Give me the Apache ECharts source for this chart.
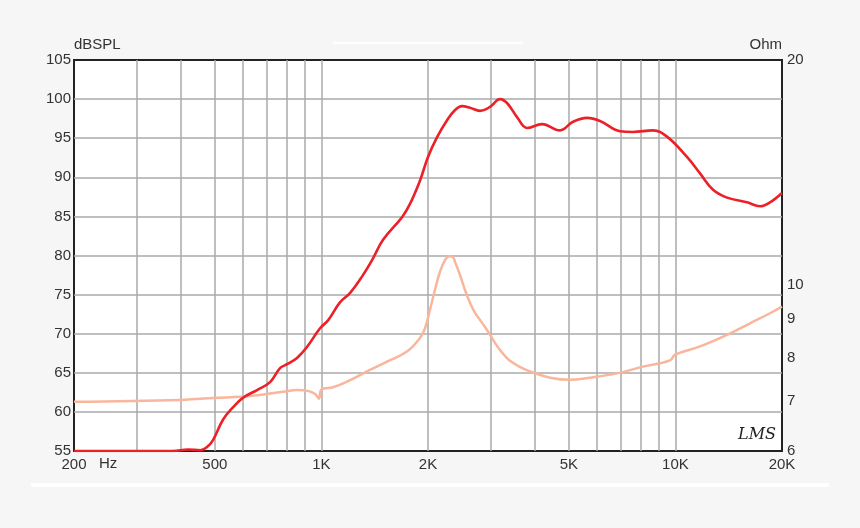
<!DOCTYPE html>
<html>
<head>
<meta charset="utf-8">
<script src="https://cdn.jsdelivr.net/npm/echarts@6/dist/echarts.min.js"></script>
<style>
html,body{margin:0;padding:0;background:#f6f6f6;}
#c{width:860px;height:528px;}
</style>
</head>
<body>
<div id="c"></div>
<script>
// ---- data ----
var xLabelValues = [200, 500, 1000, 2000, 5000, 10000, 20000];
var xGridValues = [200, 300, 400, 500, 600, 700, 800, 900, 1000, 2000, 3000, 4000, 5000, 6000, 7000, 8000, 9000, 10000, 20000];
var ohmLabelValues = [6, 7, 8, 9, 10, 20];

var splFreq = [200, 330, 380, 420, 455, 475, 494, 527, 563, 600, 658, 716, 764, 800, 853, 910, 991, 1044, 1128, 1204, 1302, 1390, 1493, 1689, 1779, 1899, 2000, 2120, 2264, 2385, 2495, 2628, 2806, 2995, 3195, 3344, 3569, 3810, 4198, 4720, 5136, 5626, 6122, 6972, 7590, 8642, 9466, 10780, 11734, 12772, 13988, 15926, 17336, 18497, 20000];
var splDb   = [55, 55, 55, 55.2, 55.1, 55.5, 56.4, 59.0, 60.6, 61.8, 62.8, 63.8, 65.6, 66.1, 66.9, 68.3, 70.7, 71.7, 74.0, 75.2, 77.3, 79.4, 82.0, 84.9, 86.6, 89.6, 92.6, 95.1, 97.3, 98.6, 99.1, 98.9, 98.5, 99.0, 100.0, 99.5, 97.7, 96.3, 96.8, 96.0, 97.1, 97.6, 97.2, 95.9, 95.8, 96.0, 95.2, 92.6, 90.5, 88.4, 87.4, 86.8, 86.3, 86.8, 88.0];

var impFreq = [200, 398, 454, 616, 779, 853, 916, 960, 984, 1000, 1078, 1181, 1371, 1532, 1744, 1899, 1961, 2026, 2092, 2162, 2234, 2300, 2354, 2385, 2462, 2544, 2628, 2716, 2806, 2898, 2995, 3092, 3195, 3300, 3409, 3640, 3962, 4423, 5036, 5738, 6839, 8099, 9653, 9971, 11734, 13988, 16240, 18497, 20000];
var impOhm  = [6.98, 7.02, 7.05, 7.10, 7.20, 7.24, 7.22, 7.15, 7.05, 7.25, 7.30, 7.43, 7.70, 7.90, 8.15, 8.50, 8.75, 9.27, 9.85, 10.42, 10.80, 10.93, 10.90, 10.74, 10.32, 9.85, 9.47, 9.18, 8.98, 8.79, 8.58, 8.37, 8.19, 8.04, 7.92, 7.77, 7.64, 7.52, 7.47, 7.52, 7.62, 7.78, 7.93, 8.07, 8.28, 8.58, 8.89, 9.17, 9.36];

function pairs(xs, ys) { return xs.map(function (x, i) { return [x, ys[i]]; }); }

var FONT = 'Liberation Sans, Arial, sans-serif';
var chart = echarts.init(document.getElementById('c'), null, {renderer: 'canvas'});
chart.setOption({
  backgroundColor: '#f6f6f6',
  animation: false,
  grid: {left: 74, right: 78, top: 60, bottom: 77, show: true, backgroundColor: '#ffffff', borderColor: '#222', borderWidth: 2},
  xAxis: {
    type: 'log', logBase: 10, min: 200, max: 20000,
    axisLine: {show: false},
    axisTick: {show: false, customValues: xGridValues},
    axisLabel: {
      customValues: xLabelValues, color: '#333', fontSize: 15, fontFamily: FONT, margin: 6,
      formatter: function (v) { return v >= 1000 ? (v / 1000) + 'K' : String(v); }
    },
    splitLine: {show: true, showMinLine: false, showMaxLine: false, lineStyle: {color: '#aaaaaa', width: 1.5}}
  },
  yAxis: [{
    type: 'value', min: 55, max: 105, interval: 5, position: 'left',
    name: 'dBSPL', nameLocation: 'end', nameGap: 5,
    nameTextStyle: {color: '#333', fontSize: 15, fontFamily: FONT, align: 'left'},
    axisLine: {show: false}, axisTick: {show: false},
    axisLabel: {color: '#333', fontSize: 15, fontFamily: FONT, margin: 3},
    splitLine: {show: true, showMinLine: false, showMaxLine: false, lineStyle: {color: '#aaaaaa', width: 1.5}}
  }, {
    type: 'log', logBase: 10, min: 6, max: 20, position: 'right',
    name: 'Ohm', nameLocation: 'end', nameGap: 5,
    nameTextStyle: {color: '#333', fontSize: 15, fontFamily: FONT, align: 'right'},
    axisLine: {show: false}, axisTick: {show: false},
    axisLabel: {customValues: ohmLabelValues, color: '#333', fontSize: 15, fontFamily: FONT, margin: 5, padding: [0, 0, 5, 0]},
    splitLine: {show: false}
  }],
  graphic: [
    {type: 'rect', shape: {x: 333, y: 42, width: 190, height: 2}, style: {fill: '#ffffff'}, silent: true},
    {type: 'rect', shape: {x: 31, y: 483, width: 798, height: 4}, style: {fill: '#ffffff'}, silent: true},
    {type: 'text', x: 99, y: 456, style: {text: 'Hz', fill: '#333', font: '15px ' + FONT}, silent: true},
    {type: 'text', x: 738, y: 427, z: 10, style: {text: 'LMS', fill: '#222', font: 'italic 16px "DejaVu Serif", serif'}, silent: true}
  ],
  series: [{
    type: 'line', name: 'Impedance', yAxisIndex: 1, data: pairs(impFreq, impOhm),
    showSymbol: false, smooth: 0.4, lineStyle: {color: '#f9b69c', width: 2.5}, itemStyle: {color: '#f9b69c'}
  }, {
    type: 'line', name: 'SPL', yAxisIndex: 0, data: pairs(splFreq, splDb),
    showSymbol: false, smooth: 0.4, lineStyle: {color: '#ec2128', width: 2.6}, itemStyle: {color: '#ec2128'}
  }]
});
</script>
</body>
</html>
